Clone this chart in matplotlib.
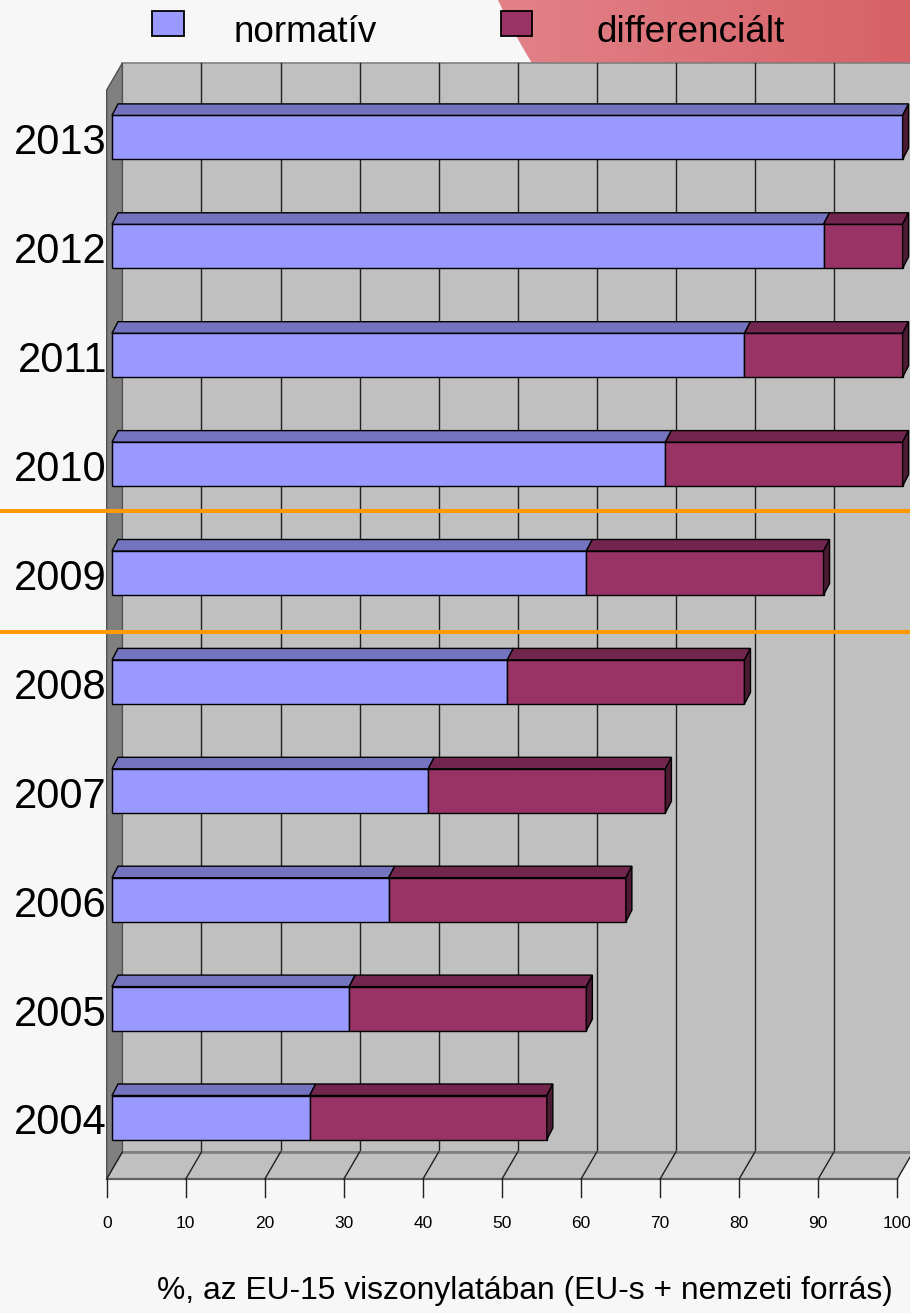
import numpy as np
import matplotlib
matplotlib.use("Agg")
import matplotlib.pyplot as plt
from matplotlib.patches import Polygon, Rectangle, Ellipse

# ---------------- data ----------------
years = ["2004", "2005", "2006", "2007", "2008", "2009", "2010", "2011", "2012", "2013"]
normativ = [25, 30, 35, 40, 50, 60, 70, 80, 90, 100]
differencialt = [30, 30, 30, 30, 30, 30, 30, 20, 10, 0]
x_ticks = [0, 10, 20, 30, 40, 50, 60, 70, 80, 90, 100]
series_names = ["normatív", "differenciált"]
axis_title = "%, az EU-15 viszonylatában (EU-s + nemzeti forrás)"

# ---------------- styles ----------------
FRONT = ["#9999FF", "#993366"]
TOP = ["#7373BF", "#73264D"]
SIDE = ["#4D4D80", "#4D1A33"]
FONT = ["Liberation Sans", "DejaVu Sans"]
NARROW = ["Liberation Sans Narrow", "Liberation Sans", "DejaVu Sans"]

W, H, DPI = 910, 1313, 100
fig = plt.figure(figsize=(W / DPI, H / DPI), dpi=DPI)
fig.patch.set_facecolor("#F7F7F7")
ax = fig.add_axes([0, 0, 1, 1])
ax.set_axis_off()

# layout: pixel geometry of the value / category scales (bar front plane)
X0 = 112.0     # pixel of value 0
PXV = 7.906    # pixels per value unit
Y0 = 1117.5    # pixel of first category centre
PYC = 108.9    # pixels per category step

ax.set_xlim((0 - X0) / PXV, (W - X0) / PXV)
ax.set_ylim((Y0 - H) / PYC, Y0 / PYC)


def vx(px):
    return (px - X0) / PXV


def iy(py):
    return (Y0 - py) / PYC


def dvx(px):
    return px / PXV


def diy(py):
    return py / PYC


FRONT_SHIFT = dvx(-5.3)   # axis front plane relative to bar front plane
BACK_SHIFT = dvx(10.4)    # back wall relative to bar front plane
FLOOR_FRONT = iy(1179)
FLOOR_BACK = iy(1152)
WALL_TOP = iy(63)
vmin, vmax = x_ticks[0], x_ticks[-1]

# ---------------- pink decoration (top right) ----------------
ell = Ellipse((vx(1113), iy(-290)), dvx(2 * 680), diy(2 * 680),
              facecolor="none", edgecolor="none")
ax.add_patch(ell)
c0 = np.array([226, 132, 138]) / 255
c1 = np.array([214, 97, 103]) / 255
nstr = 80
xs = np.linspace(470, 910, nstr + 1)
for k in range(nstr):
    t = k / (nstr - 1)
    col = c0 * (1 - t) + c1 * t
    r = Rectangle((vx(xs[k]), iy(80)), dvx(xs[k + 1] - xs[k]) * 1.05, diy(80),
                  facecolor=col, edgecolor="none", zorder=0)
    ax.add_patch(r)
    r.set_clip_path(ell)

# ---------------- walls and floor ----------------
ax.add_patch(Rectangle((vmin + BACK_SHIFT, FLOOR_BACK), vmax - vmin, WALL_TOP - FLOOR_BACK,
                       facecolor="#C0C0C0", edgecolor="#808080", lw=1.2, zorder=1))
ax.add_patch(Polygon([(vmin + FRONT_SHIFT, FLOOR_FRONT),
                      (vmin + FRONT_SHIFT, WALL_TOP - (FLOOR_BACK - FLOOR_FRONT)),
                      (vmin + BACK_SHIFT, WALL_TOP),
                      (vmin + BACK_SHIFT, FLOOR_BACK)],
                     closed=True, facecolor="#808080", edgecolor="#505050", lw=1.0, zorder=1.5))
ax.add_patch(Polygon([(vmin + FRONT_SHIFT, FLOOR_FRONT), (vmin + BACK_SHIFT, FLOOR_BACK),
                      (vmax + BACK_SHIFT, FLOOR_BACK), (vmax + FRONT_SHIFT, FLOOR_FRONT)],
                     closed=True, facecolor="#C0C0C0", edgecolor="none", zorder=1.5))
ax.plot([vmin + BACK_SHIFT, vmax + BACK_SHIFT], [FLOOR_BACK, FLOOR_BACK],
        color="#808080", lw=2.0, zorder=1.7)
ax.plot([vmin + FRONT_SHIFT, vmax + FRONT_SHIFT], [FLOOR_FRONT, FLOOR_FRONT],
        color="#606060", lw=1.6, zorder=1.7)

for v in x_ticks[1:]:
    ax.plot([v + BACK_SHIFT, v + BACK_SHIFT], [FLOOR_BACK, WALL_TOP],
            color="#202020", lw=1.0, zorder=1.6)
for v in x_ticks:
    ax.plot([v + FRONT_SHIFT, v + BACK_SHIFT], [FLOOR_FRONT, FLOOR_BACK],
            color="#202020", lw=1.0, zorder=1.8)
    ax.plot([v + FRONT_SHIFT, v + FRONT_SHIFT], [FLOOR_FRONT, iy(1197)],
            color="#202020", lw=1.0, zorder=1.8)
    ax.text(v + FRONT_SHIFT, iy(1228), str(v), ha="center", va="baseline",
            fontsize=12.5, family=NARROW, color="black", zorder=3)

# ---------------- orange separators ----------------
for py in (511, 632):
    ax.plot([vx(0), vx(W)], [iy(py), iy(py)], color="#FF9900", lw=2.9,
            zorder=2, solid_capstyle="butt")

# ---------------- 3D bars ----------------
BAR_H = diy(44)
DDX = dvx(6.0)
DDY = diy(11.5)
ypos = np.arange(len(years))

for i, y in enumerate(ypos):
    left = 0.0
    bot, top = y - BAR_H / 2, y + BAR_H / 2
    for s, vals in enumerate([normativ, differencialt]):
        w = vals[i]
        if w > 0:
            ax.barh(y, w, left=left, height=BAR_H, color=FRONT[s],
                    edgecolor="black", lw=1.0, zorder=4)
            ax.add_patch(Polygon([(left, top), (left + w, top),
                                  (left + w + DDX, top + DDY), (left + DDX, top + DDY)],
                                 closed=True, facecolor=TOP[s], edgecolor="black",
                                 lw=1.0, zorder=4))
        left += w
    # right side face at the end of the stack (last series colour)
    r = left
    ax.add_patch(Polygon([(r, bot), (r, top), (r + DDX, top + DDY), (r + DDX, bot + DDY)],
                         closed=True, facecolor=SIDE[-1], edgecolor="black",
                         lw=1.0, zorder=4.2))

# year labels
for i, y in enumerate(ypos):
    ax.text(vx(107), y - diy(17), years[i], ha="right", va="baseline",
            fontsize=30, family=FONT, color="black", zorder=5)

# ---------------- legend ----------------
legend_boxes = [(152, 184), (501, 532)]
legend_text_x = [234, 597]
for s, name in enumerate(series_names):
    x1, x2 = legend_boxes[s]
    ax.add_patch(Rectangle((vx(x1), iy(36)), dvx(x2 - x1), diy(25),
                           facecolor=FRONT[s], edgecolor="black", lw=1.3, zorder=5))
    ax.text(vx(legend_text_x[s]), iy(42), name, ha="left", va="baseline",
            fontsize=26.6, family=FONT, color="black", zorder=5)

# ---------------- axis title ----------------
ax.text(vx(525), iy(1299), axis_title, ha="center", va="baseline",
        fontsize=22.9, family=FONT, color="black", zorder=5)

fig.savefig("out.png", dpi=DPI, facecolor=fig.get_facecolor())
